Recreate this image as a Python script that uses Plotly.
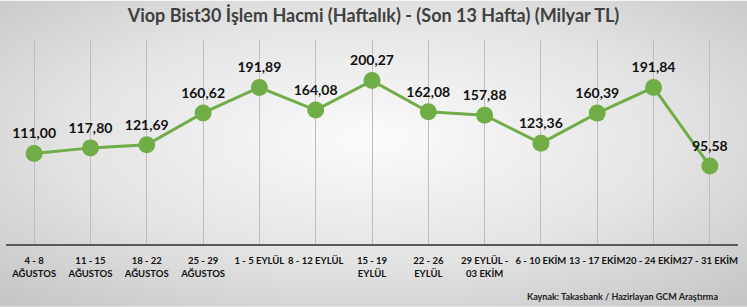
import plotly.graph_objects as go
import urllib.parse

categories = ["4 - 8<br>AĞUSTOS", "11 - 15<br>AĞUSTOS", "18 - 22<br>AĞUSTOS", "25 - 29<br>AĞUSTOS",
              "1 - 5 EYLÜL", "8 - 12 EYLÜL", "15 - 19<br>EYLÜL", "22 - 26<br>EYLÜL",
              "29 EYLÜL -<br>03 EKİM", "6 - 10 EKİM", "13 - 17 EKİM", "20 - 24 EKİM", "27 - 31 EKİM"]
values = [111.00, 117.80, 121.69, 160.62, 191.89, 164.08, 200.27, 162.08, 157.88, 123.36, 160.39, 191.84, 95.58]
labels = [f"{v:.2f}".replace(".", ",") for v in values]

W, H = 747, 307
L, R, T, B = 6, 9, 39.5, 63
pw, ph = W - L - R, H - T - B

svg = ('<svg xmlns="http://www.w3.org/2000/svg" width="747" height="307" preserveAspectRatio="none">'
       '<defs><radialGradient id="g" cx="0.5" cy="0.45" r="0.72" gradientUnits="objectBoundingBox">'
       '<stop offset="0" stop-color="#fbfbfb"/><stop offset="0.55" stop-color="#e4e4e4"/>'
       '<stop offset="1" stop-color="#c6c6c6"/></radialGradient></defs>'
       '<rect width="747" height="307" fill="url(#g)"/></svg>')
src = "data:image/svg+xml;charset=utf-8," + urllib.parse.quote(svg)

fig = go.Figure()
fig.add_trace(go.Scatter(
    x=list(range(len(values))), y=values, mode="lines+markers+text",
    text=labels, textposition="top center",
    textfont=dict(family="Lato", size=14, color="#111111", weight="bold"),
    line=dict(color="#70ad47", width=3),
    marker=dict(color="#70ad47", size=17),
    cliponaxis=False, hoverinfo="skip",
))

fig.update_layout(
    width=W, height=H, margin=dict(l=L, r=R, t=T, b=B),
    paper_bgcolor="rgba(0,0,0,0)", plot_bgcolor="rgba(0,0,0,0)",
    showlegend=False,
    title=dict(text="<b>Viop Bist30 İşlem Hacmi (Haftalık) - (Son 13 Hafta) (Milyar TL)</b>",
               x=0.5, xanchor="center", y=1 - 16 / H, yanchor="middle",
               font=dict(family="Lato", size=18, color="#404040")),
    xaxis=dict(tickmode="array", tickvals=list(range(len(values))), ticktext=[f"<b>{c}</b>" for c in categories],
               range=[-0.5, len(values) - 0.5], tickson="boundaries", showgrid=True, tickangle=0,
               gridcolor="#bdbdbd", gridwidth=1, showline=True, linecolor="#595959", linewidth=2,
               ticks="", ticklen=0, ticklabelstandoff=7,
               tickfont=dict(family="Lato", size=9.5, color="#111111"), zeroline=False),
    yaxis=dict(range=[0, 250], visible=False, showgrid=False, zeroline=False),
    images=[dict(source=src, xref="paper", yref="paper", x=-L / pw, y=1 + T / ph,
                 sizex=W / pw, sizey=H / ph, xanchor="left", yanchor="top",
                 sizing="stretch", layer="below")],
    annotations=[dict(text="<b>Kaynak: Takasbank / Hazirlayan GCM Araştırma</b>", xref="paper", yref="paper",
                      x=(720 - L) / pw, y=-(297 - T - ph) / ph, xanchor="right", yanchor="middle",
                      showarrow=False, font=dict(family="Lato", size=9, color="#222222"))],
)

fig.write_html("out.html")
